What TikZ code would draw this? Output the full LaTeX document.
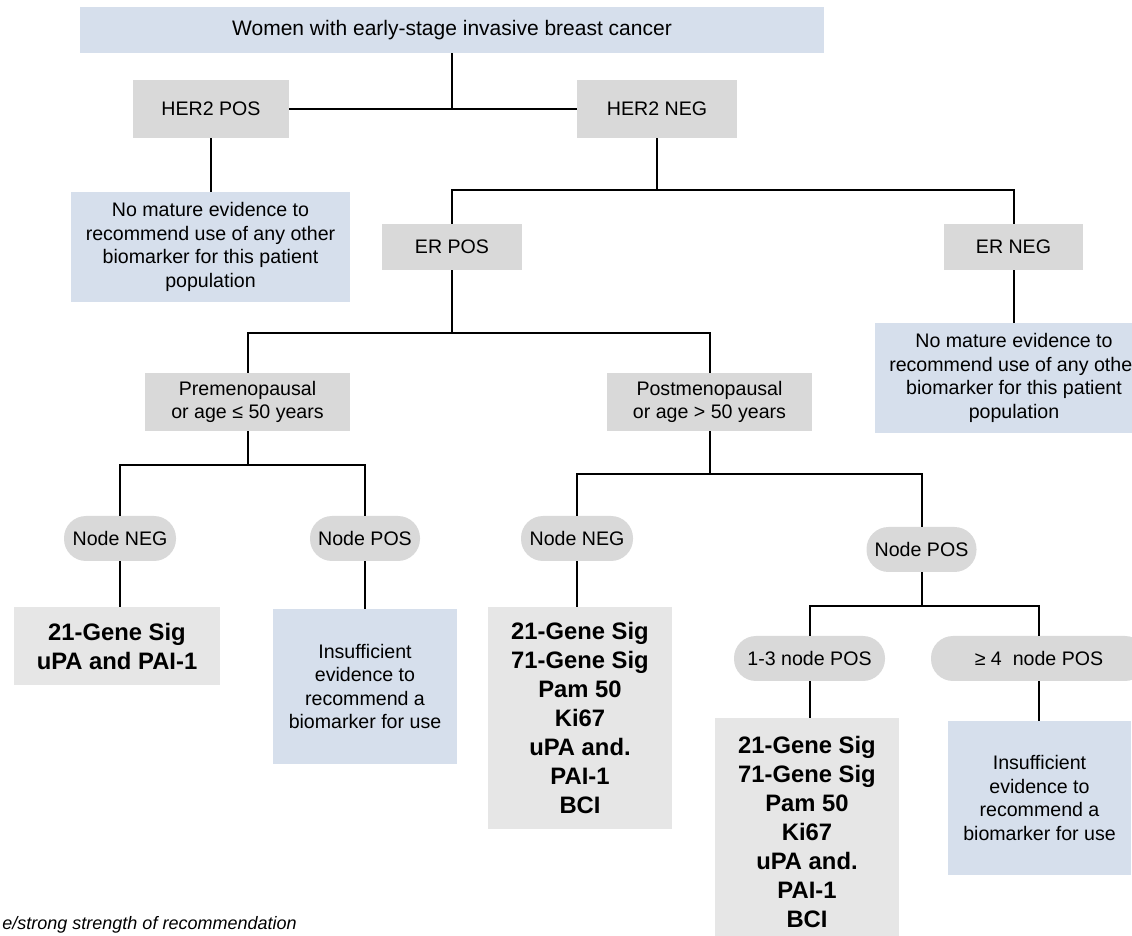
\documentclass[tikz,border=0pt]{standalone}
\usepackage{fontspec}
\setmainfont{Liberation Sans}
\usetikzlibrary{calc}
\definecolor{boxblue}{RGB}{214,223,236}
\definecolor{boxgray}{RGB}{217,217,217}
\definecolor{boxlight}{RGB}{230,230,230}
\tikzset{
  base/.style={inner sep=0pt, align=center, font=\fontsize{9.8}{11.75}\selectfont},
  bluebox/.style={base, fill=boxblue},
  graybox/.style={base, fill=boxgray},
  pill/.style={base, fill=boxgray, rounded corners=11pt},
  boldbox/.style={base, fill=boxlight, font=\fontsize{11.9}{14.5}\selectfont\bfseries},
  wire/.style={line width=1pt, black}
}

\begin{document}
\begin{tikzpicture}[x=0.5pt, y=-0.5pt]
      \useasboundingbox (0,0) rectangle (1132,936);
      \clip (0,0) rectangle (1132,936);

      \node[bluebox, minimum width=372pt, minimum height=23pt, font=\fontsize{10.5}{12.5}\selectfont] (women) at (452,30) {Women with early-stage invasive breast cancer};
      \node[graybox, minimum width=78pt, minimum height=29pt] (her2pos) at (211,109) {HER2 POS};
      \node[graybox, minimum width=80pt, minimum height=29pt] (her2neg) at (657,109) {HER2 NEG};
      \node[bluebox, minimum width=139.5pt, minimum height=55pt] (nomature1) at (210.5,247) {No mature evidence to\\recommend use of any other\\biomarker for this patient\\population};
      \node[graybox, minimum width=70pt, minimum height=23pt] (erpos) at (452,247) {ER POS};
      \node[graybox, minimum width=69.5pt, minimum height=23pt] (erneg) at (1013.5,247) {ER NEG};
      \node[bluebox, minimum width=139.5pt, minimum height=55pt] (nomature2) at (1014,378) {No mature evidence to\\recommend use of any other\\biomarker for this patient\\population};
      \node[graybox, minimum width=102.5pt, minimum height=29pt] (premeno) at (247.5,402) {Premenopausal\\or age ≤ 50 years};
      \node[graybox, minimum width=102.5pt, minimum height=29pt] (postmeno) at (709.5,402) {Postmenopausal\\or age > 50 years};
      \node[pill, minimum width=56pt, minimum height=22.5pt] (nneg1) at (120,538.5) {Node NEG};
      \node[pill, minimum width=55pt, minimum height=22.5pt] (npos1) at (365,538.5) {Node POS};
      \node[pill, minimum width=56pt, minimum height=22.5pt] (nneg2) at (577,538.5) {Node NEG};
      \node[pill, minimum width=55pt, minimum height=22.5pt] (npos2) at (921.5,549.5) {Node POS};
      \node[boldbox, minimum width=103pt, minimum height=39pt] (sig1) at (117,646) {21-Gene Sig\\uPA and PAI-1};
      \node[bluebox, minimum width=92pt, minimum height=77.5pt] (insuf1) at (365,686.5) {Insufficient\\evidence to\\recommend a\\biomarker for use};
      \node[boldbox, minimum width=92pt, minimum height=111pt] (sig2) at (580,718) {21-Gene Sig\\71-Gene Sig\\Pam 50\\Ki67\\uPA and.\\PAI-1\\BCI};
      \node[pill, minimum width=75.5pt, minimum height=22.5pt] (n13) at (809.5,658.5) {1-3 node POS};
      \node[pill, minimum width=108pt, minimum height=22.5pt] (n4) at (1039,658.5) {≥ 4~ node POS};
      \node[boldbox, minimum width=92pt, minimum height=113.5pt] (sig3) at (807,831.5) {21-Gene Sig\\71-Gene Sig\\Pam 50\\Ki67\\uPA and.\\PAI-1\\BCI};
      \node[bluebox, minimum width=91.5pt, minimum height=77pt] (insuf2) at (1039.5,798) {Insufficient\\evidence to\\recommend a\\biomarker for use};
      \node[anchor=east, inner sep=0pt, font=\fontsize{9}{11}\selectfont\itshape] (note) at (297,925) {e/strong strength of recommendation};

      \draw[wire] (women.south) -- (women.south |- her2pos.east);
      \draw[wire] (her2pos.east) -- (her2neg.west);
      \draw[wire] (her2pos.south) -- (her2pos.south |- nomature1.north);
      \draw[wire] (her2neg.south) -- ++(0,52) coordinate (j1);
      \draw[wire] (erpos.north) |- (j1) -| (erneg.north);
      \draw[wire] (erneg.south) -- (erneg.south |- nomature2.north);
      \draw[wire] (erpos.south) -- ++(0,63) coordinate (j2);
      \draw[wire] (premeno.north) |- (j2) -| (postmeno.north);
      \draw[wire] (premeno.south) -- ++(0,34) coordinate (j3);
      \draw[wire] (nneg1.north) |- (j3) -| (npos1.north);
      \draw[wire] (postmeno.south) -- ++(0,43) coordinate (j4);
      \draw[wire] (nneg2.north) |- (j4) -| (npos2.north);
      \draw[wire] (nneg1.south) -- (nneg1.south |- sig1.north);
      \draw[wire] (npos1.south) -- (npos1.south |- insuf1.north);
      \draw[wire] (nneg2.south) -- (nneg2.south |- sig2.north);
      \draw[wire] (npos2.south) -- ++(0,34) coordinate (j5);
      \draw[wire] (n13.north) |- (j5) -| (n4.north);
      \draw[wire] (n13.south) -- (n13.south |- sig3.north);
      \draw[wire] (n4.south) -- (n4.south |- insuf2.north);
\end{tikzpicture}
\end{document}
